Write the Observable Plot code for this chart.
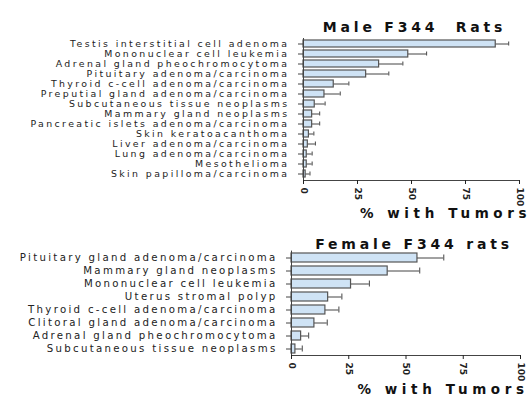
<!DOCTYPE html>
<html><head><meta charset="utf-8">
<script src="https://cdn.jsdelivr.net/npm/d3@7"></script>
<script src="https://cdn.jsdelivr.net/npm/@observablehq/plot@0.6"></script>
<style>body{margin:0;background:#fff} #c svg{display:block}</style>
</head><body><div id="c"></div><script>
const maleLabels = ["Testis interstitial cell adenoma","Mononuclear cell leukemia","Adrenal gland pheochromocytoma","Pituitary adenoma/carcinoma","Thyroid c-cell adenoma/carcinoma","Preputial gland adenoma/carcinoma","Subcutaneous tissue neoplasms","Mammary gland neoplasms","Pancreatic islets adenoma/carcinoma","Skin keratoacanthoma","Liver adenoma/carcinoma","Lung adenoma/carcinoma","Mesothelioma","Skin papilloma/carcinoma"];
const maleValues = [89, 48.5, 35, 29, 14, 9.7, 5.2, 4, 4, 2.5, 2, 1.5, 1.5, 1];
const maleUpper = [95, 57, 46, 39.5, 21, 17, 10, 7.5, 7.5, 4.8, 5.5, 4, 4, 3];
const femaleLabels = ["Pituitary gland adenoma/carcinoma","Mammary gland neoplasms","Mononuclear cell leukemia","Uterus stromal polyp","Thyroid c-cell adenoma/carcinoma","Clitoral gland adenoma/carcinoma","Adrenal gland pheochromocytoma","Subcutaneous tissue neoplasms"];
const femaleValues = [55, 42, 26, 16, 14.8, 10, 4.2, 1.7];
const femaleUpper = [66.5, 56, 34, 22, 20.7, 15.6, 7.5, 4.7];
const xTicks = [0, 25, 50, 75, 100];
const xLabel = "% with Tumors";

function panel(o) {
  const data = o.labels.map((label, i) => ({label, value: o.values[i], upper: o.upper[i]}));
  const chart = Plot.plot({
    width: 531, height: o.height,
    marginLeft: o.ml, marginRight: o.mr, marginTop: o.mt, marginBottom: o.mb,
    style: {fontFamily: "DejaVu Sans", background: "#fff", color: "#222"},
    x: {domain: [0, 100]},
    y: {domain: o.labels, paddingInner: 0.28, paddingOuter: o.po},
    marks: [
      Plot.ruleY(data, {y: "label", x1: "value", x2: "upper", stroke: "#444", strokeWidth: 1}),
      Plot.tickX(data, {x: "upper", y: "label", stroke: "#444", insetTop: 1.5, insetBottom: 1.5}),
      Plot.barX(data, {y: "label", x: "value", fill: "#cfe3f5", stroke: "#555", strokeWidth: 1.2}),
      Plot.frame({anchor: "left", stroke: "#444"}),
      Plot.frame({anchor: "bottom", stroke: "#444"}),
      Plot.axisY({tickSize: 5, tickPadding: o.tp, fontSize: o.labelSize, label: null, stroke: "#444"}),
      Plot.axisX({ticks: xTicks, tickRotate: 90, tickSize: 4, tickPadding: 3, fontSize: 9, fontWeight: "bold", label: null}),
      Plot.text([o.title], {frameAnchor: "top", dy: o.titleDy, dx: o.titleDx, fontSize: 14, fontWeight: "900", fill: "#111", className: "ttl"}),
      Plot.text([xLabel], {frameAnchor: "bottom", dy: o.xlDy, dx: o.xlDx, fontSize: 13.5, fontWeight: "900", fill: "#111", className: "xl"})
    ]
  });
  const s = d3.select(chart);
  s.selectAll('g[aria-label="y-axis tick label"] text').style("letter-spacing", o.ls + "px");
  s.selectAll('.ttl text').style("letter-spacing", "3.8px");
  s.selectAll('.xl text').style("letter-spacing", "4.6px");
  return chart;
}

const c = document.getElementById("c");
c.append(panel({labels: maleLabels, values: maleValues, upper: maleUpper, title: "Male F344  Rats",
  height: 225, ml: 303, mr: 12, mt: 38, mb: 45, po: 0.2, labelSize: 9.4, ls: 2.4, tp: 9, titleDy: -16, titleDx: 3, xlDy: 37, xlDx: 34}));
c.append(panel({labels: femaleLabels, values: femaleValues, upper: femaleUpper, title: "Female F344 rats",
  height: 172, ml: 291, mr: 11, mt: 25.6, mb: 42, po: 0.15, labelSize: 10.2, ls: 2.3, tp: 9, titleDy: -12, titleDx: 8, xlDy: 38, xlDx: 37}));
</script></body></html>
